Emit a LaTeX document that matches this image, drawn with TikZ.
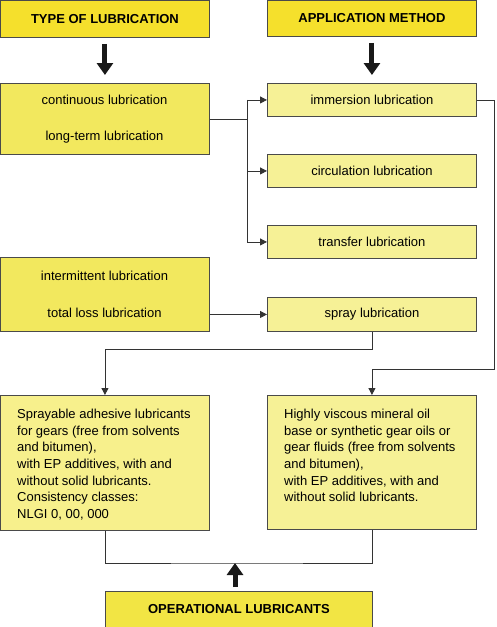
\documentclass[tikz,border=0pt]{standalone}
\usepackage{fontspec}
\setmainfont{Liberation Sans}
\usetikzlibrary{arrows.meta}
\definecolor{hdr}{HTML}{F5E02C}
\definecolor{midy}{HTML}{F2E85E}
\definecolor{paley}{HTML}{F6F196}
\definecolor{boty}{HTML}{F7F08C}
\definecolor{opy}{HTML}{F2E544}
\definecolor{edge}{HTML}{4A4A4A}
\definecolor{wire}{HTML}{333333}
\begin{document}
\begin{tikzpicture}[x=1pt,y=-1pt,
  font=\fontsize{13}{16.6}\selectfont,
  box/.style={draw=edge, line width=0.9pt, anchor=north west, inner sep=0pt},
  hdrbox/.style={box, fill=hdr, font=\fontsize{13}{16.6}\selectfont\bfseries},
  wire/.style={draw=wire, line width=0.8pt},
  arr/.style={wire, -{Triangle[length=7pt,width=7pt]}},
  thick arrow/.style={draw=black!90, line width=5pt, -{Triangle[length=12pt,width=16pt]}},
  txt/.style={anchor=north west, inner sep=0pt, align=left}
]
\useasboundingbox (0,0) rectangle (497,627);

% headers
\node[hdrbox, minimum width=209pt, minimum height=37pt] (t) at (0,0) {TYPE OF LUBRICATION};
\node[hdrbox, minimum width=209pt, minimum height=36pt] (am) at (267,0) {APPLICATION METHOD};

% left boxes
\node[box, fill=midy, minimum width=209pt, minimum height=71pt] (cont) at (0,83) {};
\node (contA) at (104.5,100) {continuous lubrication};
\node (contB) at (104.5,137) {long-term lubrication};

\node[box, fill=midy, minimum width=209pt, minimum height=74pt] (inter) at (0,257) {};
\node (interA) at (104.5,276) {intermittent lubrication};
\node (interB) at (104.5,313) {total loss lubrication};

% right boxes
\node[box, fill=paley, minimum width=209pt, minimum height=33pt] (imm) at (267,83) {immersion lubrication};
\node[box, fill=paley, minimum width=209pt, minimum height=33pt] (circ) at (267,154) {circulation lubrication};
\node[box, fill=paley, minimum width=209pt, minimum height=33pt] (trans) at (267,225) {transfer lubrication};
\node[box, fill=paley, minimum width=209pt, minimum height=34pt] (spray) at (267,297) {spray lubrication};

% bottom boxes
\node[box, fill=boty, minimum width=209pt, minimum height=135pt] (sl) at (0,395) {};
\node[txt] (slt) at (17,409) {Sprayable adhesive lubricants\\for gears (free from solvents\\and bitumen),\\with EP additives, with and\\without solid lubricants.\\Consistency classes:\\NLGI 0, 00, 000};
\node[box, fill=paley, minimum width=209pt, minimum height=134pt] (sr) at (267,395) {};
\node[txt] (srt) at (284,409) {Highly viscous mineral oil\\base or synthetic gear oils or\\gear fluids (free from solvents\\and bitumen),\\with EP additives, with and\\without solid lubricants.};

% operational
\node[hdrbox, fill=opy, minimum width=267pt, minimum height=36pt] (op) at (105,591) {OPERATIONAL LUBRICANTS};

% helper coordinates
\coordinate (bx) at (247,0);
\coordinate (rx) at (494,0);
\coordinate (c1) at (0,349);
\coordinate (c2) at (0,369);
\coordinate (c3) at (235,563);

% thick arrows
\draw[thick arrow, shorten <=6pt, shorten >=8pt] (t.south) -- (t.south |- cont.north);
\draw[thick arrow, shorten <=6pt, shorten >=8pt] (am.south) -- (am.south |- imm.north);
\draw[thick arrow, shorten <=4pt] (c3 |- op.north) -- (c3);

% connectors
\draw[wire] (cont.east) -| (bx |- imm.west);
\draw[arr] (bx |- imm.west) -- (imm.west);
\draw[arr] (bx |- circ.west) -- (circ.west);
\draw[arr] (bx |- imm.west) |- (trans.west);
\draw[arr] (inter.east |- spray.west) -- (spray.west);
\draw[arr] (spray.south) |- (c1 -| sl.north) -- (sl.north);
\draw[arr] (imm.east) -| (rx |- c2) -| (sr.north);
\draw[wire] (sl.south) |- (c3) -| (sr.south);
\end{tikzpicture}
\end{document}
